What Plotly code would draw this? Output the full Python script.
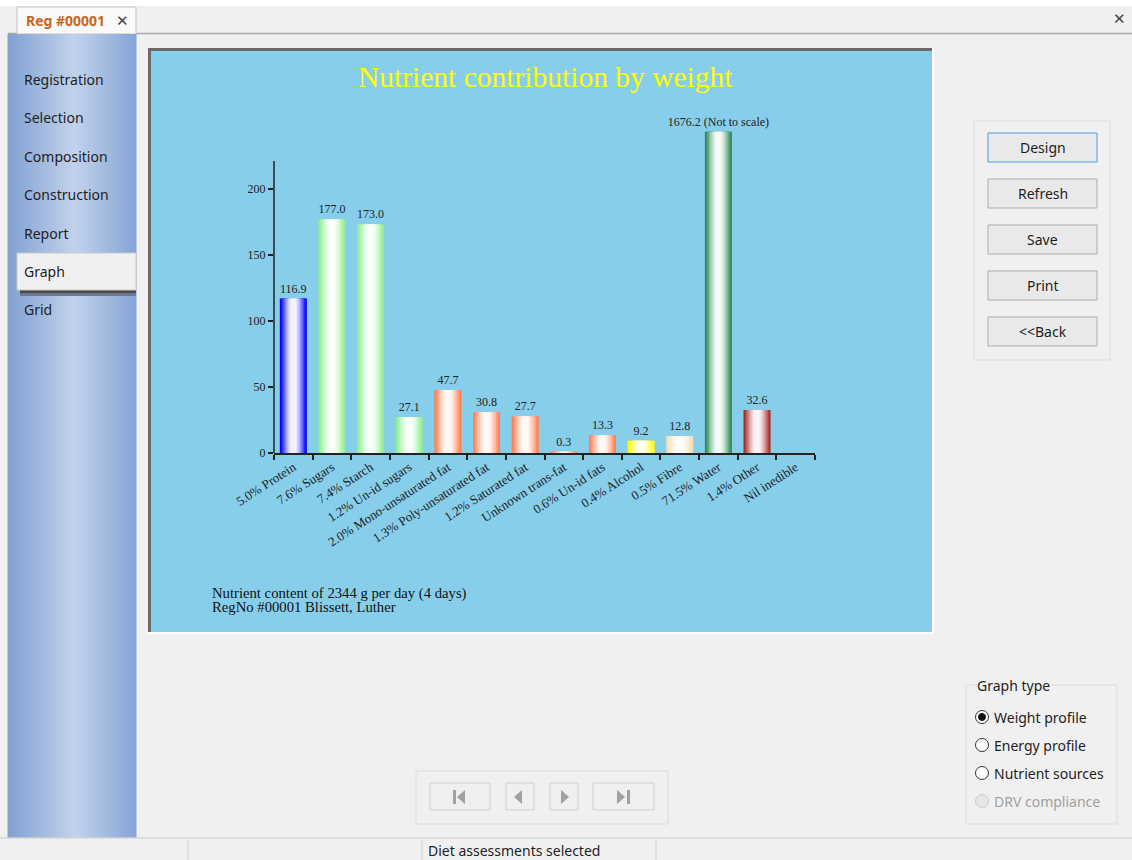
import plotly.graph_objects as go

# ---------------- data ----------------
categories = ["5.0% Protein", "7.6% Sugars", "7.4% Starch", "1.2% Un-id sugars",
              "2.0% Mono-unsaturated fat", "1.3% Poly-unsaturated fat", "1.2% Saturated fat",
              "Unknown trans-fat", "0.6% Un-id fats", "0.4% Alcohol", "0.5% Fibre",
              "71.5% Water", "1.4% Other", "Nil inedible"]
grams = [116.9, 177.0, 173.0, 27.1, 47.7, 30.8, 27.7, 0.3, 13.3, 9.2, 12.8, 1676.2, 32.6, 0.0]
bar_colors = ["#0000ff", "#90ee90", "#90ee90", "#90ee90", "#ff7f50", "#ff7f50", "#ff7f50",
              "#ff7f50", "#ff7f50", "#ffff00", "#f5deb3", "#2e8b57", "#a52a2a", "#a52a2a"]
y_ticks = [0, 50, 100, 150, 200]
y_axis_top = 221
title_text = "Nutrient contribution by weight"
footer_lines = ["Nutrient content of 2344 g per day (4 days)", "RegNo #00001 Blissett, Luther"]
nav_items = ["Registration", "Selection", "Composition", "Construction", "Report", "Graph", "Grid"]
buttons = ["Design", "Refresh", "Save", "Print", "<<Back"]
graph_types = ["Weight profile", "Energy profile", "Nutrient sources", "DRV compliance"]

W, H = 1132, 860
SERIF = "Liberation Serif"
UI = "Noto Sans"


def px(x):
    return x / W


def py(y):
    return 1 - y / H


shapes = []
annots = []


def rect(x0, y0, x1, y1, fill, line=None, lw=1):
    shapes.append(dict(type="rect", xref="paper", yref="paper", x0=px(x0), x1=px(x1),
                       y0=py(y1), y1=py(y0), fillcolor=fill,
                       line=dict(color=line if line else "rgba(0,0,0,0)", width=lw if line else 0),
                       layer="below"))


def hline(x0, x1, y, color, lw=1):
    shapes.append(dict(type="line", xref="paper", yref="paper", x0=px(x0), x1=px(x1),
                       y0=py(y), y1=py(y), line=dict(color=color, width=lw), layer="below"))


def vline(x, y0, y1, color, lw=1):
    shapes.append(dict(type="line", xref="paper", yref="paper", x0=px(x), x1=px(x),
                       y0=py(y0), y1=py(y1), line=dict(color=color, width=lw), layer="below"))


def circle(cx, cy, r, fill, line, lw=1):
    shapes.append(dict(type="circle", xref="paper", yref="paper", x0=px(cx - r), x1=px(cx + r),
                       y0=py(cy + r), y1=py(cy - r), fillcolor=fill,
                       line=dict(color=line, width=lw), layer="below"))


def poly(pts, fill):
    path = "M " + " L ".join(f"{px(x)},{py(y)}" for x, y in pts) + " Z"
    shapes.append(dict(type="path", xref="paper", yref="paper", path=path, fillcolor=fill,
                       line=dict(width=0), layer="below"))


def text(x, y, s, size=14, color="#1e1e1e", family=UI, anchor="left", bg=None, bold=False):
    if anchor == "left":
        x -= 2
    a = dict(x=px(x), y=py(y), xref="paper", yref="paper", text=f"<b>{s}</b>" if bold else s,
             showarrow=False, xanchor=anchor, yanchor="middle",
             font=dict(family=family, size=size, color=color))
    if bg:
        a["bgcolor"] = bg
    annots.append(a)


def hexrgb(c):
    c = c.lstrip("#")
    return tuple(int(c[i:i + 2], 16) for i in (0, 2, 4))


def mix(c1, c2, t):
    a, b = hexrgb(c1), hexrgb(c2)
    return "#" + "".join(f"{round(a[k] + (b[k] - a[k]) * t):02x}" for k in range(3))


# ---------------- window chrome ----------------
rect(0, 0, W, 6, "#ffffff")
hline(8, W, 33.5, "#a8a8a8", 1.5)
rect(17, 7, 136, 34, "#fafafa", "#c4c4c4")
text(26, 21, "Reg #00001", 14, "#c8641e", bold=True)
text(122, 21, "✕", 15, "#444444", family="DejaVu Sans", anchor="center")
text(1119, 19, "✕", 15, "#444444", family="DejaVu Sans", anchor="center")

# sidebar gradient
n_strips = 64
for i in range(n_strips):
    x0 = 8 + i * 128 / n_strips
    x1 = 8 + (i + 1) * 128 / n_strips + 0.5
    t = (i + 0.5) / n_strips
    d = abs(t - 0.52) / 0.52
    rect(x0, 34, x1, 838, mix("#c2d2eb", "#80a1d3", min(1, d)))
vline(8, 34, 838, "#a0a0a0", 1)

nav_y = [80, 118, 156, 195, 233, 271, 309]
for name, yy in zip(nav_items, nav_y):
    if name == "Graph":
        rect(20, 290, 136, 293, "#4a4a4a")
        rect(20, 293, 136, 296, "#6d7890")
        rect(17, 253, 136, 290, "#f0f0f0", "#c8c8c8")
    text(24, yy, name, 14)

# chart panel
rect(148, 48, 934, 634, "#ffffff")
rect(148, 48, 932, 632, "#6a6a6a")
rect(151, 51, 932, 632, "#87ceeb")

# right button group
rect(974, 121, 1110, 360, "rgba(0,0,0,0)", "#dcdcdc")
btn_y = [133, 179, 225, 271, 317]
for name, yy in zip(buttons, btn_y):
    border = "#4a9be8" if name == "Design" else "#adadad"
    rect(988, yy, 1097, yy + 29, "#e9e9e9", border)
    text(1042.5, yy + 14.5, name, 14, anchor="center")

# graph type group
rect(966, 685, 1117, 824, "rgba(0,0,0,0)", "#dcdcdc")
text(977, 685, "Graph type", 14, bg="#f0f0f0")
rad_y = [717, 745, 773, 801]
for k, (name, yy) in enumerate(zip(graph_types, rad_y)):
    if k == 3:
        circle(982, yy, 6.5, "#e6e6e6", "#cccccc")
        text(994, yy, name, 14, "#a0a0a0")
    else:
        circle(982, yy, 6.5, "#ffffff", "#333333")
        if k == 0:
            circle(982, yy, 3.5, "#111111", "#111111")
        text(994, yy, name, 14)

# navigation group
rect(416, 771, 668, 824, "rgba(0,0,0,0)", "#dcdcdc")
for (x0, x1) in [(430, 490), (506, 534), (550, 578), (593, 654)]:
    rect(x0, 783, x1, 810, "#efefef", "#d0d0d0")
g = "#a0a0a0"
rect(453, 790, 456, 804, g)
poly([(457, 797), (465, 790), (465, 804)], g)
poly([(514, 797), (522, 790), (522, 804)], g)
poly([(569, 797), (561, 790), (561, 804)], g)
poly([(625, 797), (617, 790), (617, 804)], g)
rect(627, 790, 630, 804, g)

# status bar
hline(0, W, 838, "#d6d6d6", 1.5)
for xs in [188, 422, 656]:
    vline(xs, 840, 860, "#d0d0d0", 1)
text(428, 850, "Diet assessments selected", 14)

# ---------------- chart ----------------
display = [v if v <= y_axis_top else y_axis_top * 1.1 for v in grams]
labels = []
for v in grams:
    if v == 0:
        labels.append("")
    elif v > y_axis_top:
        labels.append(f"{v:.1f} (Not to scale)")
    else:
        labels.append(f"{v:.1f}")

widths = [0.7, 0.63, 0.56, 0.49, 0.42, 0.35, 0.28, 0.21, 0.14]
tints = [0.0, 0.12, 0.27, 0.42, 0.56, 0.69, 0.8, 0.89, 0.95]

fig = go.Figure()
for i, (w, t) in enumerate(zip(widths, tints)):
    fig.add_trace(go.Bar(
        x=categories, y=display, width=w,
        marker=dict(color=[mix(c, "#ffffff", t) for c in bar_colors], line=dict(width=0)),
        text=labels if i == 0 else None,
        textposition="outside" if i == 0 else "none",
        textfont=dict(family=SERIF, size=12, color="#222222"),
        cliponaxis=False, constraintext="none",
        hoverinfo="skip" if i > 0 else "x+y",
        showlegend=False,
    ))

x_left, x_right = 274, 815
y_zero = 453
px_per_unit = 66.06 / 50
y_range_top = 250
y_top_px = y_zero - y_range_top * px_per_unit

shapes.append(dict(type="line", xref="paper", yref="y", x0=px(x_left), x1=px(x_left),
                   y0=0, y1=y_axis_top, line=dict(color="#222222", width=1.5)))

annots.append(dict(x=px(545), y=py(77), xref="paper", yref="paper", text=title_text,
                   showarrow=False, xanchor="center", yanchor="middle",
                   font=dict(family=SERIF, size=29.5, color="#ffff00")))
for k, line in enumerate(footer_lines):
    annots.append(dict(x=px(210), y=py(593 + 14 * k), xref="paper", yref="paper", text=line,
                       showarrow=False, xanchor="left", yanchor="middle",
                       font=dict(family=SERIF, size=14.7, color="#111111")))

fig.update_layout(
    width=W, height=H, margin=dict(l=0, r=0, t=0, b=0, autoexpand=False),
    paper_bgcolor="#f0f0f0", plot_bgcolor="rgba(0,0,0,0)",
    barmode="overlay", showlegend=False,
    shapes=shapes, annotations=annots,
    xaxis=dict(domain=[px(x_left), px(x_right)], type="category", range=[-0.5, len(categories) - 0.5],
               showline=True, linecolor="#222222", linewidth=1.5, showgrid=False, zeroline=False,
               ticks="outside", tickson="boundaries", ticklen=5, tickwidth=1.5, tickcolor="#222222",
               tickangle=-33, tickfont=dict(family=SERIF, size=13, color="#222222"), fixedrange=True),
    yaxis=dict(domain=[1 - y_zero / H, 1 - y_top_px / H], range=[0, y_range_top],
               showline=False, showgrid=False, zeroline=False,
               tickvals=y_ticks, ticks="outside", ticklen=5, tickwidth=1.5, tickcolor="#222222",
               tickfont=dict(family=SERIF, size=12, color="#222222"), fixedrange=True),
    font=dict(family=UI),
)

fig.write_html("out.html", config={"displayModeBar": False},
               post_script="document.body.style.margin='0';document.body.style.overflow='hidden';")
